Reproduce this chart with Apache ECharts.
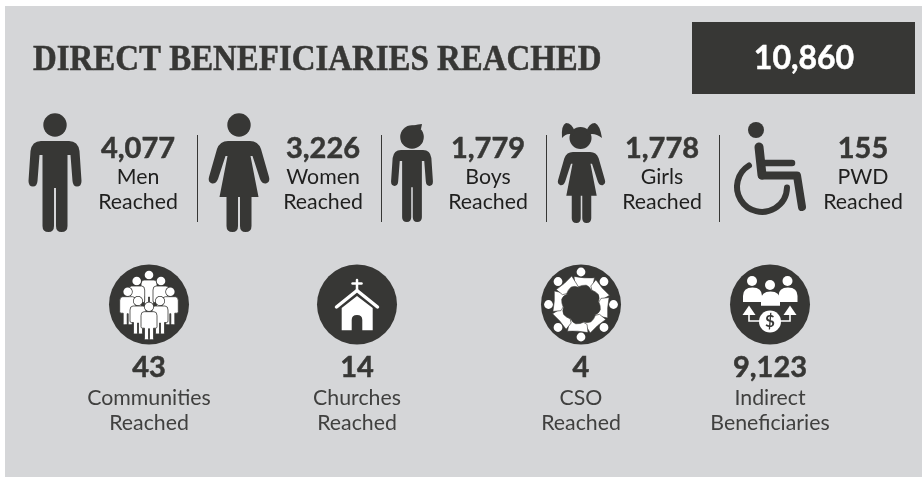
<!DOCTYPE html>
<html>
<head>
<meta charset="utf-8">
<style>html,body{margin:0;padding:0;background:#fff}#chart{width:922px;height:477px}</style>
<script src="https://cdn.jsdelivr.net/npm/echarts@6/dist/echarts.min.js"></script>
</head>
<body>
<div id="chart"></div>
<script>
// chart values
var titleText = 'DIRECT BENEFICIARIES REACHED';
var totalReached = 10860;
var groupNames = ['Men', 'Women', 'Boys', 'Girls', 'PWD'];
var groupValues = [4077, 3226, 1779, 1778, 155];
var outreachNames = [['Communities', 'Reached'], ['Churches', 'Reached'], ['CSO', 'Reached'], ['Indirect', 'Beneficiaries']];
var outreachValues = [43, 14, 4, 9123];

// layout
var groupTextX = [138, 323, 488, 662, 863];
var separatorX = [197, 381, 546, 719];
var outreachX = [149, 357, 581, 770];
var dark = '#373735', panel = '#d5d6d8', labelColor = '#1f1f1e', subColor = '#40403f';

var MAN = 'M-14 0L14 0Q23 0 24.5 10L26.5 40Q26.5 45.5 22 45.5Q18 45.5 17.5 40L15.5 14L12.5 14L12.5 85Q12.5 91 6.5 91Q1 91 1 85L1 47L-1 47L-1 85Q-1 91 -6.5 91Q-12.5 91 -12.5 85L-12.5 14L-15.5 14L-17.5 40Q-18 45.5 -22 45.5Q-26.5 45.5 -26.5 40L-24.5 10Q-23 0 -14 0Z';
var WOMAN = 'M-11 0L11 0Q19 0 22 8L30 36Q31.5 41 27 42.5Q23 43 21 38L13.5 15L11.5 15L19.5 56L12.5 56L12.5 85Q12.5 91 6.5 91Q1 91 1 85L1 56L-1 56L-1 85Q-1 91 -6.5 91Q-12.5 91 -12.5 85L-12.5 56L-19.5 56L-11.5 15L-13.5 15L-21 38Q-23 43 -27 42.5Q-31.5 41 -30 36L-22 8Q-19 0 -11 0Z';
var CROWD = 'M-5 0L5 0Q8 0 8 4L8 15Q8 16.5 6.5 16.5L4.5 16.5L4.5 27Q4.5 28 3.5 28L1.5 28Q0.5 28 0.5 27L0.5 17L-0.5 17L-0.5 27Q-0.5 28 -1.5 28L-3.5 28Q-4.5 28 -4.5 27L-4.5 16.5L-6.5 16.5Q-8 16.5 -8 15L-8 4Q-8 0 -5 0Z';
var SWIRL = 'M-7 -28.1Q3 -26 13.6 -26.7L10.5 -13.4Q9 -18 5.2 -19.3Q1 -19.5 -2.5 -17.8L-6.1 -20Z';

function fmt(v) {
    return v.toLocaleString('en-US');
}

function text(str, x, y, font, fill, heavy) {
    return {
        type: 'text',
        style: {
            text: str, x: x, y: y, font: font, fill: fill, align: 'center', verticalAlign: 'middle',
            stroke: heavy ? fill : null, lineWidth: heavy ? 0.5 : 0
        }
    };
}

function circle(cx, cy, r, fill) {
    return { type: 'circle', shape: { cx: cx, cy: cy, r: r }, style: { fill: fill } };
}

function path(d, fill) {
    return { type: 'path', shape: { pathData: d }, style: { fill: fill } };
}

function line(d, width, color) {
    return {
        type: 'path',
        shape: { pathData: d },
        style: { fill: 'none', stroke: color || dark, lineWidth: width, lineCap: 'round', lineJoin: 'round' }
    };
}

function figure(d, x, y, s) {
    return { type: 'group', x: x, y: y, scaleX: s, scaleY: s, children: [path(d, dark)] };
}

function crowdPerson(x, headY) {
    return {
        type: 'group',
        children: [
            circle(x, headY, 5, dark),
            circle(x, headY, 4.3, '#fff'),
            {
                type: 'path',
                x: x, y: headY + 5,
                shape: { pathData: CROWD },
                style: { fill: '#fff', stroke: dark, lineWidth: 0.8 }
            }
        ]
    };
}

function groupIcon(i) {
    if (i == 0) return [circle(55, 125, 11.7, dark), figure(MAN, 55, 141, 1)];
    if (i == 1) return [circle(239, 125, 11.7, dark), figure(WOMAN, 239, 141, 1)];
    if (i == 2) return [
        circle(412, 137, 11.8, dark),
        path('M411 126L418 124.5L422 124L421 129L416 130Z', dark),
        figure(MAN, 412, 150, 0.79)
    ];
    if (i == 3) return [
        circle(580.5, 138, 11, dark),
        path('M575 132Q572 123 566 123Q561 125 562 138Q568 131 575 136Z', dark),
        path('M586 132Q589 123 595 123Q600 125 602 138Q593 131 586 136Z', dark),
        figure(WOMAN, 581.5, 152, 0.78)
    ];
    return [
        circle(756, 130, 8, dark),
        line('M759 147L762 175', 9),
        line('M762 163L792 163', 6.5),
        line('M762 175.5L797 175.5L802 207', 8),
        line('M749 165.5A25 25 0 1 0 787 187.5', 6)
    ];
}

function outreachIcon(i, cx) {
    var c = [circle(cx, 304.5, 40, dark)];
    if (i == 0) {
        var crowd = [[149, 275], [136.7, 281], [161, 281], [127.7, 291.7], [170.3, 291.7], [138, 301], [160, 301], [149, 306.7]];
        crowd.forEach(function(p) { c.push(crowdPerson(p[0], p[1])); });
    } else if (i == 1) {
        c.push(path('M341.7 330.3L341.7 308L357 296L372.7 308L372.7 330.3L362.3 330.3L362.3 320Q362.3 315 357 315Q351.7 315 351.7 320L351.7 330.3Z', '#fff'));
        c.push(line('M357 280L357 290', 2.5, '#fff'));
        c.push(line('M352.5 283.5L361.5 283.5', 2.5, '#fff'));
        c.push(line('M336.5 307L357 290.5L377.5 307', 3.5, '#fff'));
    } else if (i == 2) {
        for (var k = 0; k < 8; k++) {
            c.push({
                type: 'group', x: cx, y: 304.5, rotation: -k * Math.PI / 4,
                children: [
                    { type: 'path', shape: { pathData: SWIRL }, style: { fill: '#fff', stroke: dark, lineWidth: 0.6 } },
                    circle(0, -32.5, 4.4, '#fff')
                ]
            });
        }
    } else {
        c.push(circle(752, 281, 5, '#fff'), circle(770, 285, 5, '#fff'), circle(787.5, 281, 5, '#fff'));
        c.push(path('M743 302L743 296Q743 287.5 752.5 287.5Q762 287.5 762 296L762 302Z', '#fff'));
        c.push(path('M778.5 302L778.5 296Q778.5 287.5 788 287.5Q797.5 287.5 797.5 296L797.5 302Z', '#fff'));
        c.push(path('M761 305.7L761 300Q761 291.5 770.5 291.5Q780 291.5 780 300L780 305.7Z', '#fff'));
        c.push(path('M749 305.5L755.5 315L742.5 315Z', '#fff'));
        c.push(path('M790 305.5L796.5 315L783.5 315Z', '#fff'));
        c.push({ type: 'path', shape: { pathData: 'M749 315L749 321L760 321M790 315L790 321L780 321' }, style: { fill: 'none', stroke: '#fff', lineWidth: 1.6 } });
        c.push(circle(770, 321.5, 11, '#fff'));
        c.push(text('$', 770, 322, 'bold 17px Lato', dark));
    }
    return c;
}

var chart = echarts.init(document.getElementById('chart'));
chart.setOption({
    animation: false,
    series: [{
        type: 'custom',
        coordinateSystem: 'none',
        silent: true,
        data: [totalReached],
        renderItem: function() {
            return {
                type: 'group',
                children: [
                    { type: 'rect', shape: { x: 5, y: 6, width: 917, height: 471 }, style: { fill: panel } },
                    { type: 'rect', shape: { x: 692, y: 22, width: 223, height: 72 }, style: { fill: dark } },
                    text(fmt(totalReached), 804, 59, 'bold 32px Lato', '#fff', true),
                    {
                        type: 'text',
                        x: 33, y: 61, scaleX: 0.94,
                        style: {
                            text: titleText, x: 0, y: 0, font: 'bold 35px "Liberation Serif"', fill: dark,
                            stroke: dark, lineWidth: 0.5, align: 'left', verticalAlign: 'middle'
                        }
                    }
                ]
            };
        }
    }, {
        type: 'custom',
        coordinateSystem: 'none',
        silent: true,
        data: groupValues,
        renderItem: function(params) {
            var i = params.dataIndex, x = groupTextX[i];
            var c = groupIcon(i);
            c.push(text(fmt(groupValues[i]), x, 149, 'bold 29px Lato', dark, true));
            c.push(text(groupNames[i], x, 177, '21.3px Lato', labelColor));
            c.push(text('Reached', x, 202.5, '21.3px Lato', labelColor));
            if (i < separatorX.length) {
                c.push({
                    type: 'rect',
                    shape: { x: separatorX[i], y: 135, width: 1, height: 87 },
                    style: { fill: dark }
                });
            }
            return { type: 'group', children: c };
        }
    }, {
        type: 'custom',
        coordinateSystem: 'none',
        silent: true,
        data: outreachValues,
        renderItem: function(params) {
            var i = params.dataIndex, x = outreachX[i];
            var c = outreachIcon(i, x);
            c.push(text(fmt(outreachValues[i]), x, 368, 'bold 29px Lato', dark, true));
            c.push(text(outreachNames[i][0], x, 398, '21.3px Lato', subColor));
            c.push(text(outreachNames[i][1], x, 423, '21.3px Lato', subColor));
            return { type: 'group', children: c };
        }
    }]
});
</script>
</body>
</html>
